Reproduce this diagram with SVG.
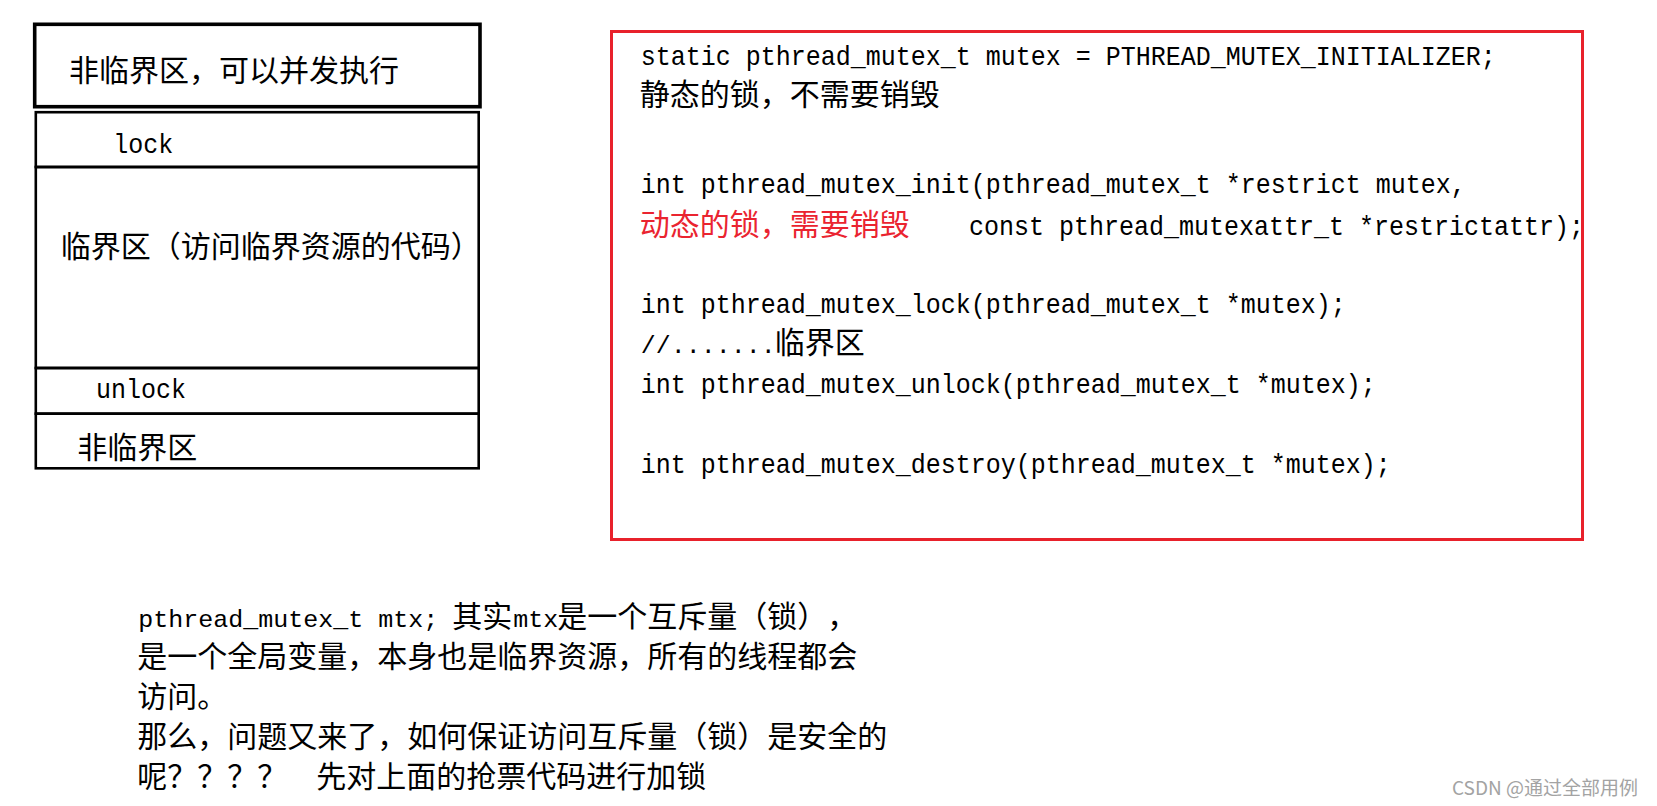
<svg xmlns="http://www.w3.org/2000/svg" width="1657" height="806" viewBox="0 0 1657 806">
<style>
text { text-spacing-trim: space-all; }
.m { font-family: "Liberation Mono", "DejaVu Sans Mono", monospace; font-size: 28px; fill: #000; }
.ms { font-size: 24px; }
.c { font-family: "Noto Sans CJK SC", "Noto Sans", sans-serif; font-size: 30px; fill: #000; }
.red { fill: #ea2430; }
.box { fill: none; stroke: #000; }
.wm { font-family: "Noto Sans CJK SC", "Noto Sans", sans-serif; font-size: 19px; fill: #a3a3a3; }
</style>
<rect width="1657" height="806" fill="#fff"/>

<g id="left-stack">
  <g id="box-noncritical-top">
    <rect class="box" x="34.7" y="24.3" width="445.3" height="82.4" stroke-width="3.6"/>
    <text class="c" x="69" y="80.5">非临界区，可以并发执行</text>
  </g>
  <g id="box-lock">
    <rect class="box" x="35.8" y="112.2" width="442.9" height="54.8" stroke-width="2.6"/>
    <text class="m" x="113.3" y="153.3" textLength="60" lengthAdjust="spacingAndGlyphs">lock</text>
  </g>
  <g id="box-critical">
    <rect class="box" x="35.8" y="167" width="442.9" height="201" stroke-width="2.6"/>
    <text class="c" x="60.7" y="257">临界区（访问临界资源的代码）</text>
  </g>
  <g id="box-unlock">
    <rect class="box" x="35.8" y="368" width="442.9" height="45.7" stroke-width="2.6"/>
    <text class="m" x="96" y="398.3" textLength="90" lengthAdjust="spacingAndGlyphs">unlock</text>
  </g>
  <g id="box-noncritical-bottom">
    <rect class="box" x="35.8" y="413.7" width="442.9" height="54.6" stroke-width="2.6"/>
    <text class="c" x="77.3" y="458">非临界区</text>
  </g>
</g>

<g id="api-box">
  <rect x="611.5" y="31.5" width="971" height="508" fill="none" stroke="#e8212b" stroke-width="3"/>
  <text class="m" x="640.7" y="65" textLength="855" lengthAdjust="spacingAndGlyphs">static pthread_mutex_t mutex = PTHREAD_MUTEX_INITIALIZER;</text>
  <text class="c" x="639.7" y="104.5">静态的锁，不需要销毁</text>
  <text class="m" x="640.7" y="193.3" textLength="825" lengthAdjust="spacingAndGlyphs">int pthread_mutex_init(pthread_mutex_t *restrict mutex,</text>
  <text y="234.5"><tspan class="c red" x="639.7">动态的锁，需要销毁</tspan><tspan class="m" x="969" style="font-size:27.5px" textLength="615" lengthAdjust="spacingAndGlyphs">const pthread_mutexattr_t *restrictattr);</tspan></text>
  <text class="m" x="640.7" y="313.3" textLength="705" lengthAdjust="spacingAndGlyphs">int pthread_mutex_lock(pthread_mutex_t *mutex);</text>
  <text y="353.3"><tspan class="m ms" x="640.7" textLength="135" lengthAdjust="spacingAndGlyphs">//.......</tspan><tspan class="c" x="774.7">临界区</tspan></text>
  <text class="m" x="640.7" y="393" textLength="735" lengthAdjust="spacingAndGlyphs">int pthread_mutex_unlock(pthread_mutex_t *mutex);</text>
  <text class="m" x="640.7" y="472.7" textLength="750" lengthAdjust="spacingAndGlyphs">int pthread_mutex_destroy(pthread_mutex_t *mutex);</text>
</g>

<g id="note">
  <text y="626.5"><tspan class="m ms" x="138.3" textLength="300" lengthAdjust="spacingAndGlyphs">pthread_mutex_t mtx;</tspan><tspan class="c" x="452.3">其实</tspan><tspan class="m ms" x="513.3" textLength="45" lengthAdjust="spacingAndGlyphs">mtx</tspan><tspan class="c" x="557.3">是一个互斥量（锁），</tspan></text>
  <text class="c" x="137.3" y="666.5">是一个全局变量，本身也是临界资源，所有的线程都会</text>
  <text class="c" x="137.3" y="706.5">访问。</text>
  <text class="c" x="137.3" y="746.5">那么，问题又来了，如何保证访问互斥量（锁）是安全的</text>
  <text class="c" y="786.5"><tspan x="137.3">呢？？？？</tspan><tspan x="316.3">先对上面的抢票代码进行加锁</tspan></text>
</g>

<g id="watermark">
  <text class="wm" x="1452" y="795">CSDN @通过全部用例</text>
</g>
</svg>
